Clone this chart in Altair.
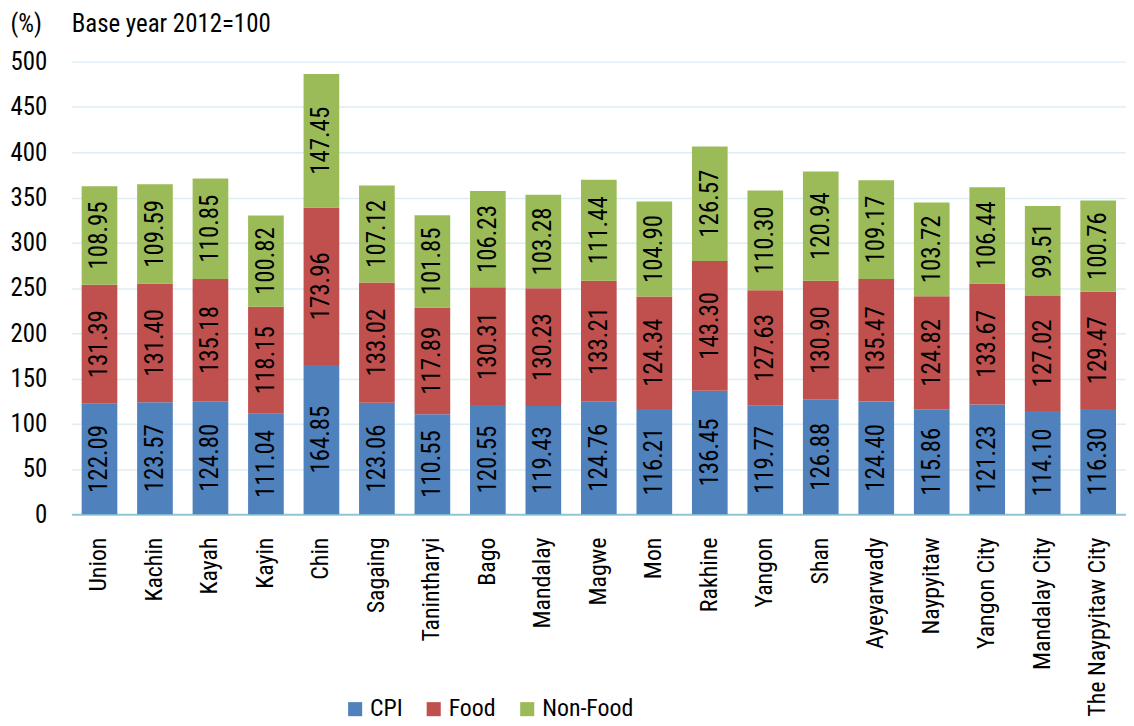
import altair as alt
import pandas as pd

regions = ["Union", "Kachin", "Kayah", "Kayin", "Chin", "Sagaing", "Tanintharyi", "Bago",
           "Mandalay", "Magwe", "Mon", "Rakhine", "Yangon", "Shan", "Ayeyarwady", "Naypyitaw",
           "Yangon City", "Mandalay City", "The Naypyitaw City"]
cpi = [122.09, 123.57, 124.80, 111.04, 164.85, 123.06, 110.55, 120.55, 119.43, 124.76,
       116.21, 136.45, 119.77, 126.88, 124.40, 115.86, 121.23, 114.10, 116.30]
food = [131.39, 131.40, 135.18, 118.15, 173.96, 133.02, 117.89, 130.31, 130.23, 133.21,
        124.34, 143.30, 127.63, 130.90, 135.47, 124.82, 133.67, 127.02, 129.47]
nonfood = [108.95, 109.59, 110.85, 100.82, 147.45, 107.12, 101.85, 106.23, 103.28, 111.44,
           104.90, 126.57, 110.30, 120.94, 109.17, 103.72, 106.44, 99.51, 100.76]
series = ["CPI", "Food", "Non-Food"]
colors = ["#4F81BD", "#C0504D", "#9BBB59"]
subtitle = ["Base year 2012=100"]

rows = []
for i, r in enumerate(regions):
    for k, (s, vals) in enumerate(zip(series, [cpi, food, nonfood])):
        rows.append({"region": r, "series": s, "order": k, "value": vals[i]})
df = pd.DataFrame(rows)

FONT = "Roboto Condensed, DejaVu Sans Condensed, Roboto, Liberation Sans, sans-serif"

base = alt.Chart(df).transform_stack(
    stack="value", groupby=["region"], as_=["y0", "y1"],
    sort=[alt.SortField("order", "ascending")]
).transform_calculate(
    ymid="(datum.y0 + datum.y1) / 2",
    label="format(datum.value, '.2f')"
)

xenc = alt.X("region:N", sort=regions, title=None,
             scale=alt.Scale(paddingInner=0.357, paddingOuter=0.18),
             axis=alt.Axis(labelAngle=-90, labelPadding=23, ticks=False, domain=True,
                           domainColor="#8EC8D8", domainWidth=2, labelFontSize=24,
                           labelColor="#000000", labelFont=FONT, grid=False, labelLimit=300))

bars = base.mark_bar().encode(
    x=xenc,
    y=alt.Y("y0:Q", scale=alt.Scale(domain=[0, 500]),
            axis=alt.Axis(values=list(range(0, 501, 50)), title="(%)", titleAngle=0,
                          titleX=-62, titleY=-30, titleAlign="left", titleBaseline="alphabetic",
                          titleFont=FONT, titleFontSize=25, titleFontWeight="normal",
                          titleColor="#000000",
                          labelFontSize=25, labelFont=FONT, labelColor="#000000",
                          labelPadding=25, ticks=False, domain=False,
                          gridColor="#DCEEF4", gridWidth=1.5)),
    y2="y1:Q",
    color=alt.Color("series:N", sort=series,
                    scale=alt.Scale(domain=series, range=colors),
                    legend=alt.Legend(title=None, orient="none", legendX=273, legendY=639,
                                      direction="horizontal", symbolType="square",
                                      symbolSize=200, symbolStrokeWidth=0,
                                      labelFontSize=24, labelFont=FONT, labelColor="#000000",
                                      columnPadding=19, labelOffset=3)),
)

labels = base.mark_text(angle=270, fontSize=25, font=FONT, color="#000000").encode(
    x=alt.X("region:N", sort=regions),
    y=alt.Y("ymid:Q"),
    text="label:N",
)

sub = alt.Chart(pd.DataFrame({"t": subtitle})).mark_text(
    align="left", baseline="alphabetic", fontSize=25, font=FONT, color="#000000"
).encode(x=alt.value(0), y=alt.value(-30), text="t:N")

chart = alt.layer(bars, labels, sub).properties(
    width=1060, height=455,
    autosize=alt.AutoSizeParams(type="none"),
    padding={"left": 64, "top": 52, "right": 0, "bottom": 208},
).configure_view(stroke=None)

chart.save("out.html", embed_options={"renderer": "svg", "actions": False})
